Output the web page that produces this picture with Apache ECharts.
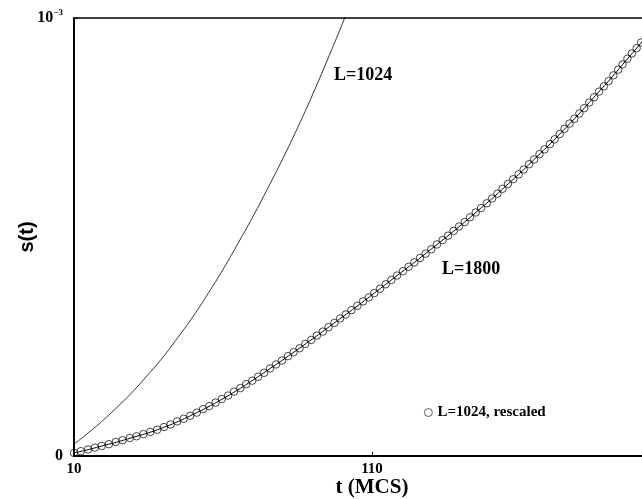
<!DOCTYPE html>
<html>
<head>
<meta charset="utf-8">
<script src="https://cdn.jsdelivr.net/npm/echarts@6/dist/echarts.min.js"></script>
<style>
  html, body { margin: 0; padding: 0; background: #fff; }
  #main { width: 642px; height: 499px; }
</style>
</head>
<body>
<div id="main"></div>
<script>
// s(t) in units of 1e-3, t in MCS
var tLine = [10, 15, 20, 25, 30, 35, 40, 45, 50, 55, 60, 65, 70, 75, 80, 85, 90, 95, 100, 105, 110,
  115, 120, 125, 130, 135, 140, 145, 150, 155, 160, 165, 170, 175, 180, 185, 190, 195, 200, 205, 210];
var s1800 = [0.007, 0.015, 0.024, 0.033, 0.043, 0.053, 0.065, 0.079, 0.095, 0.112, 0.131, 0.151, 0.173,
  0.196, 0.219, 0.243, 0.267, 0.292, 0.317, 0.342, 0.368, 0.394, 0.420, 0.446, 0.473, 0.500, 0.528,
  0.557, 0.586, 0.617, 0.648, 0.681, 0.714, 0.749, 0.785, 0.823, 0.861, 0.901, 0.941, 0.983, 1.026];
var t1024 = [10, 15, 20, 25, 30, 35, 40, 45, 50, 55, 60, 65, 70, 75, 80, 85, 90, 95, 100, 105, 110];
var s1024 = [0.027, 0.054, 0.083, 0.115, 0.149, 0.187, 0.227, 0.272, 0.319, 0.371, 0.426, 0.485,
  0.546, 0.611, 0.678, 0.749, 0.824, 0.904, 0.986, 1.072, 1.16];
// L=1024 rescaled (circles)
var tResc = [10, 12.3, 14.7, 17.0, 19.3, 21.7, 24.0, 26.3, 28.7, 31.0, 33.3, 35.6, 37.9, 40.2,
  42.4, 44.6, 46.8, 49.0, 51.2, 53.3, 55.4, 57.5, 59.6,
  61.7, 63.7, 65.8, 67.8, 69.8, 71.8, 73.8, 75.8, 77.8, 79.8,
  81.8, 83.7, 85.7, 87.6, 89.6, 91.5, 93.5, 95.4, 97.4, 99.3, 101.2, 103.1, 105.1, 107.0, 108.9,
  110.8, 112.7, 114.6, 116.5, 118.4, 120.4, 122.3, 124.2, 126.1, 128.0, 129.9,
  131.8, 133.7, 135.5, 137.4, 139.2, 141.1, 142.9, 144.8, 146.6, 148.5, 150.3,
  152.1, 153.8, 155.6, 157.4, 159.2, 160.9, 162.7, 164.4, 166.2, 167.9, 169.7,
  171.3, 173.0, 174.6, 176.3, 177.9, 179.6, 181.2, 182.9, 184.5, 186.2, 187.8, 189.4,
  191.0, 192.6, 194.1, 195.7, 197.2, 198.8, 200.3, 201.9, 203.4];
var sResc = [0.007, 0.011, 0.015, 0.019, 0.023, 0.027, 0.032, 0.036, 0.041, 0.045, 0.050, 0.055, 0.060, 0.066,
  0.072, 0.079, 0.085, 0.092, 0.099, 0.107, 0.114, 0.122, 0.130,
  0.138, 0.147, 0.155, 0.164, 0.172, 0.181, 0.190, 0.200, 0.209, 0.218,
  0.228, 0.237, 0.246, 0.256, 0.265, 0.275, 0.284, 0.294, 0.304, 0.314, 0.323, 0.333, 0.343, 0.353, 0.362,
  0.372, 0.382, 0.392, 0.402, 0.412, 0.422, 0.432, 0.442, 0.452, 0.462, 0.472,
  0.483, 0.493, 0.503, 0.514, 0.524, 0.534, 0.545, 0.556, 0.566, 0.577, 0.588,
  0.599, 0.610, 0.621, 0.632, 0.643, 0.654, 0.666, 0.677, 0.689, 0.700, 0.712,
  0.723, 0.735, 0.747, 0.759, 0.770, 0.782, 0.794, 0.807, 0.819, 0.832, 0.844, 0.856,
  0.869, 0.882, 0.894, 0.907, 0.919, 0.931, 0.944, 0.957, 0.969];

function pairs(xs, ys) {
  var out = [];
  for (var i = 0; i < xs.length; i++) out.push([xs[i], ys[i]]);
  return out;
}

var serif = '"Liberation Serif", "DejaVu Serif", serif';
var chart = echarts.init(document.getElementById('main'));

var option = {
  backgroundColor: '#fff',
  animation: false,
  grid: {
    left: 74, top: 18, bottom: 43, right: -28,
    show: true, borderColor: '#000', borderWidth: 1.5,
    outerBoundsMode: 'none'
  },
  xAxis: {
    type: 'value', min: 10, max: 210, interval: 100,
    name: 't (MCS)', nameLocation: 'middle', nameGap: 21, nameMoveOverlap: false,
    nameTextStyle: { fontFamily: serif, fontWeight: 'bold', fontSize: 21, color: '#000' },
    axisLine: { lineStyle: { color: '#000', width: 2 } },
    axisTick: { inside: true, length: 4, lineStyle: { color: '#000' } },
    axisLabel: { fontFamily: serif, fontWeight: 'bold', fontSize: 15, color: '#000', margin: 6 },
    splitLine: { show: false }
  },
  yAxis: {
    type: 'value', min: 0, max: 1, interval: 1,
    name: 's(t)', nameLocation: 'middle', nameGap: 37, nameRotate: 90, nameMoveOverlap: false,
    nameTextStyle: { fontFamily: '"Liberation Sans", Arial, sans-serif', fontWeight: 'bold', fontSize: 20, color: '#000' },
    axisLine: { lineStyle: { color: '#000', width: 2 } },
    axisTick: { inside: true, length: 4, lineStyle: { color: '#000' } },
    axisLabel: {
      margin: 11,
      formatter: function (v) { return v === 0 ? '{b|0}' : '{b|10}{sup|−3}'; },
      rich: {
        b: { fontFamily: serif, fontWeight: 'bold', fontSize: 16, color: '#000' },
        sup: { fontFamily: serif, fontWeight: 'bold', fontSize: 9, color: '#000', verticalAlign: 'top', padding: [0, 0, 10, 0] }
      }
    },
    splitLine: { show: false }
  },
  legend: {
    left: 419, top: 400,
    itemWidth: 8, itemHeight: 8, itemGap: 4,
    itemStyle: { color: '#fff', borderColor: '#000', borderWidth: 0.8 },
    textStyle: { fontFamily: serif, fontWeight: 'bold', fontSize: 15, color: '#000' },
    data: [{ name: 'L=1024, rescaled', icon: 'circle' }]
  },
  series: [
    {
      name: 'L=1024', type: 'line', data: pairs(t1024, s1024),
      showSymbol: false, smooth: true, clip: true,
      lineStyle: { color: '#000', width: 0.8 }
    },
    {
      name: 'L=1800', type: 'line', data: pairs(tLine, s1800),
      showSymbol: false, smooth: true, clip: true,
      lineStyle: { color: '#000', width: 1 }
    },
    {
      name: 'L=1024, rescaled', type: 'scatter', data: pairs(tResc, sResc),
      symbol: 'circle', symbolSize: 7.5,
      itemStyle: { color: 'rgba(255,255,255,0)', borderColor: '#000', borderWidth: 0.9 }
    }
  ],
  graphic: [
    { type: 'text', left: 334, top: 66, style: { text: 'L=1024', font: 'bold 18px ' + serif, fill: '#000' } },
    { type: 'text', left: 442, top: 260, style: { text: 'L=1800', font: 'bold 18px ' + serif, fill: '#000' } }
  ]
};
chart.setOption(option);
</script>
</body>
</html>
